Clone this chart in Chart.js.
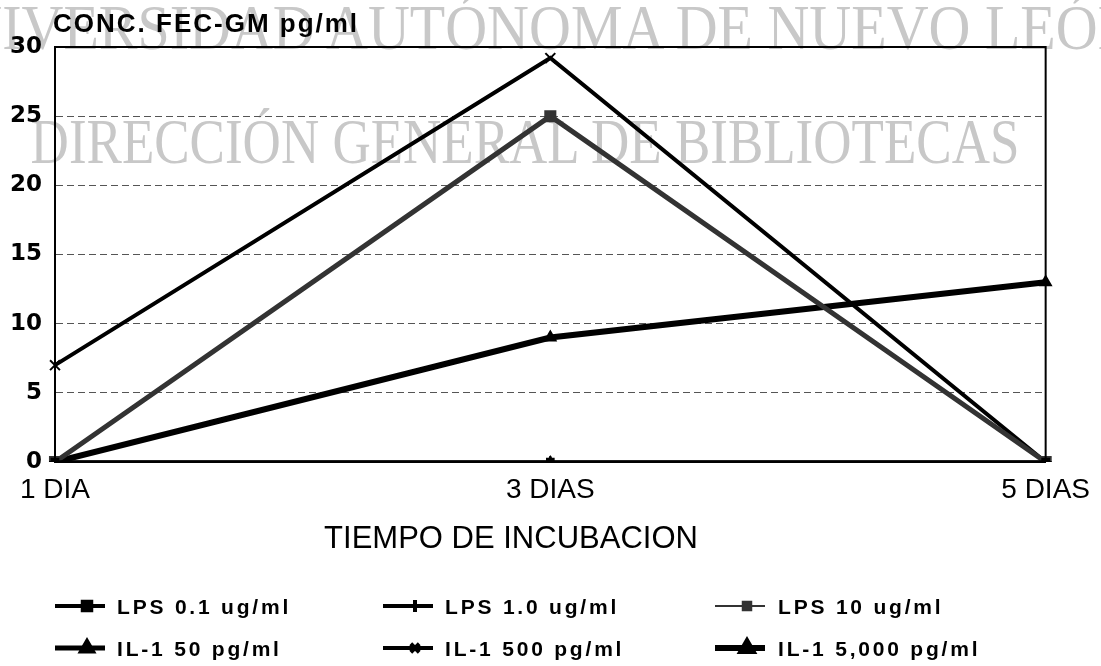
<!DOCTYPE html>
<html>
<head>
<meta charset="utf-8">
<script src="https://cdn.jsdelivr.net/npm/chart.js@4/dist/chart.umd.min.js"></script>
<style>
  body { margin: 0; background: #fff; }
  #wrap { position: relative; width: 1101px; height: 666px; overflow: hidden; }
  .marca { position: absolute; left: 0; white-space: nowrap; font-family: "Liberation Serif", serif; color: #c8c8c8; line-height: 1; }
  #chart { position: absolute; left: 0; top: 0; }
</style>
</head>
<body>
<div id="wrap">
  <div class="marca" id="m1" style="font-size:58px; top:1px; left:529px; transform:translateX(-50%) scaleY(1.08); transform-origin:50% 48px;">UNIVERSIDAD AUTÓNOMA DE NUEVO LEÓN</div>
  <div class="marca" id="m2" style="font-size:53px; top:119px; left:525px; transform:translateX(-50%) scaleY(1.18); transform-origin:50% 44px;">DIRECCIÓN GENERAL DE BIBLIOTECAS</div>
  <canvas id="chart" width="1101" height="666"></canvas>
</div>
<script>
// datos
dias = ['1 DIA', '3 DIAS', '5 DIAS']
yTicks = [0, 5, 10, 15, 20, 25, 30]
nombres = ['LPS 0.1 ug/ml', 'LPS 1.0 ug/ml', 'LPS 10 ug/ml', 'IL-1 50 pg/ml', 'IL-1 500 pg/ml', 'IL-1 5,000 pg/ml']
lps01 = [0, 0, 0]
lps1 = [0, 0, 0]
lps10 = [0, 25, 0]
il50 = [0, 0, 0]
il500 = [7, 29.2, 0]
il5000 = [0, 9, 13]

tituloY = 'CONC. FEC-GM pg/ml'
tituloX = 'TIEMPO DE INCUBACION'

// marco superior/derecho, titulos y leyenda
marcoPlugin = {
    id: 'marco',
    beforeDatasetsDraw: function(chart){
        var ctx = chart.ctx, a = chart.chartArea
        ctx.save()
        ctx.strokeStyle = '#000'
        ctx.lineWidth = 2
        ctx.beginPath()
        ctx.moveTo(a.left, a.top)
        ctx.lineTo(a.right, a.top)
        ctx.lineTo(a.right, a.bottom)
        ctx.stroke()
        ctx.restore()
    },
    afterDraw: function(chart){
        var ctx = chart.ctx
        ctx.save()
        ctx.fillStyle = '#000'
        ctx.textBaseline = 'alphabetic'
        ctx.textAlign = 'left'
        ctx.font = 'bold 26px "Liberation Sans"'
        ctx.letterSpacing = '2px'
        ctx.fillText(tituloY, 53, 32)

        ctx.letterSpacing = '0px'
        ctx.textAlign = 'center'
        ctx.font = '31px "Liberation Sans"'
        ctx.fillText(tituloX, 511, 548)

        // leyenda en 3 columnas
        var symX = [55, 383, 715]
        var txtX = [117, 445, 778]
        var filaY = [606, 648]
        ctx.textAlign = 'left'
        ctx.font = 'bold 21px "Liberation Sans"'
        ctx.letterSpacing = '2.8px'
        chart.data.datasets.forEach(function(ds, i){
            var col = i % 3, fila = Math.floor(i / 3)
            var y = filaY[fila]
            ctx.strokeStyle = ds.borderColor
            ctx.lineWidth = ds.legendWidth
            ctx.beginPath()
            ctx.moveTo(symX[col], y)
            ctx.lineTo(symX[col] + 50, y)
            ctx.stroke()
            ctx.fillStyle = ds.borderColor
            Chart.helpers.drawPoint(ctx, {
                pointStyle: ds.pointStyle,
                radius: 6,
                borderWidth: 2,
                rotation: 0
            }, symX[col] + 32, y)
            ctx.fillStyle = '#000'
            ctx.fillText(ds.label, txtX[col], y + 8)
        })
        ctx.restore()
    }
}

window.onload = function(){
    ctx = document.getElementById('chart')
    config = {
        type: 'line',
        data: {
            labels: dias,
            datasets: [
                { label: nombres[0], data: lps01, borderColor: '#000', backgroundColor: '#000', borderWidth: 3, legendWidth: 4, pointStyle: 'rect', pointRadius: 4 },
                { label: nombres[1], data: lps1, borderColor: '#000', backgroundColor: '#000', borderWidth: 3, legendWidth: 4, pointStyle: 'cross', pointRadius: 6, pointBorderWidth: 2 },
                { label: nombres[2], data: lps10, borderColor: '#333', backgroundColor: '#333', borderWidth: 5, legendWidth: 2, pointStyle: 'rect', pointRadius: 5 },
                { label: nombres[3], data: il50, borderColor: '#000', backgroundColor: '#000', borderWidth: 3, legendWidth: 5, pointStyle: 'triangle', pointRadius: 4 },
                { label: nombres[4], data: il500, borderColor: '#000', backgroundColor: '#000', borderWidth: 4, legendWidth: 4, pointStyle: 'crossRot', pointRadius: 7, pointBorderWidth: 2 },
                { label: nombres[5], data: il5000, borderColor: '#000', backgroundColor: '#000', borderWidth: 6, legendWidth: 6, pointStyle: 'triangle', pointRadius: 2 }
            ]
        },
        options: {
            responsive: false,
            animation: false,
            devicePixelRatio: 1,
            layout: { padding: { top: 47, right: 55, left: 0, bottom: 0 } },
            plugins: {
                legend: { display: false },
                tooltip: { enabled: false }
            },
            elements: { line: { tension: 0 } },
            scales: {
                x: {
                    type: 'category',
                    offset: false,
                    grid: { display: false, drawTicks: false },
                    border: { display: true, color: '#000', width: 2 },
                    ticks: { color: '#000', padding: 11, maxRotation: 0, font: { family: 'Liberation Sans', size: 28 } },
                    afterFit: function(s){ s.height = 204 }
                },
                y: {
                    min: 0,
                    max: 30,
                    afterBuildTicks: function(s){ s.ticks = yTicks.map(function(v){ return { value: v } }) },
                    grid: { color: '#555', lineWidth: 1, drawTicks: false },
                    border: { display: true, color: '#000', width: 2, dash: [7, 4] },
                    ticks: { color: '#000', padding: 13, font: { family: 'DejaVu Sans', weight: 'bold', size: 23 } },
                    afterFit: function(s){ s.width = 55 }
                }
            }
        },
        plugins: [marcoPlugin]
    }
    grafica = new Chart(ctx, config)
}
</script>
</body>
</html>
